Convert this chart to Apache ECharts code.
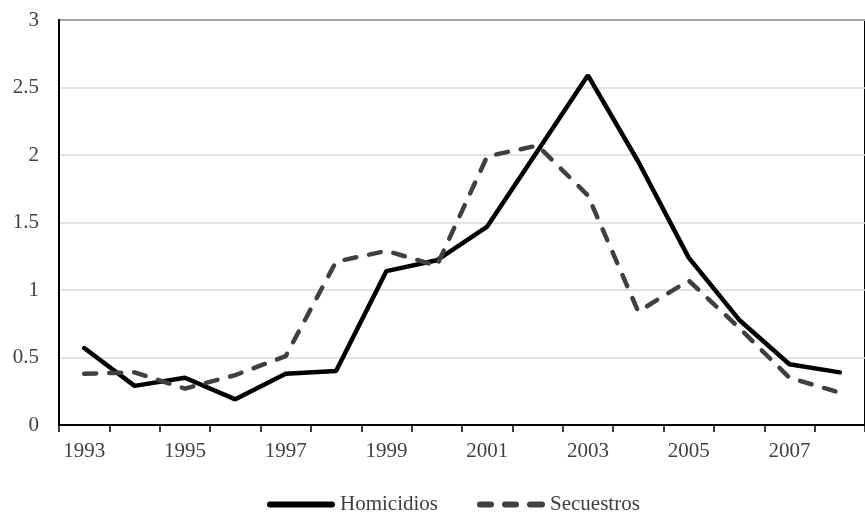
<!DOCTYPE html>
<html>
<head>
<meta charset="utf-8">
<script src="https://cdn.jsdelivr.net/npm/echarts@6/dist/echarts.min.js"></script>
<style>
  html, body { margin: 0; padding: 0; background: #fff; }
  #chart { width: 865px; height: 513px; }
</style>
</head>
<body>
<div id="chart"></div>
<script>
// años
var years = ['1993', '1994', '1995', '1996', '1997', '1998', '1999', '2000',
             '2001', '2002', '2003', '2004', '2005', '2006', '2007', '2008'];
var homicidios = [0.57, 0.29, 0.35, 0.19, 0.38, 0.40, 1.14, 1.22, 1.47, 2.03, 2.59, 1.95, 1.24, 0.78, 0.45, 0.39];
var secuestros = [0.38, 0.39, 0.27, 0.37, 0.51, 1.21, 1.29, 1.18, 1.99, 2.07, 1.70, 0.84, 1.07, 0.72, 0.35, 0.24];

var font = 'Liberation Serif, Times New Roman, serif';
var chart = echarts.init(document.getElementById('chart'));
chart.setOption({
    animation: false,
    grid: {
        left: 59,
        top: 20,
        width: 814,   // el borde derecho queda fuera de la imagen
        height: 405,
        show: true,
        borderColor: '#000',
        borderWidth: 2
    },
    legend: {
        top: 489,
        left: 262,
        itemWidth: 68,
        itemHeight: 14,
        itemGap: 39,
        textStyle: { fontFamily: font, fontSize: 21, color: '#404040' },
        data: [
            { name: 'Homicidios', icon: 'path://M3,0h62a3,3 0 0 1 0,6h-62a3,3 0 0 1 0,-6z' },
            { name: 'Secuestros', icon: 'path://M3,0h11a3,3 0 0 1 0,6h-11a3,3 0 0 1 0,-6z M28,0h11a3,3 0 0 1 0,6h-11a3,3 0 0 1 0,-6z M53,0h12a3,3 0 0 1 0,6h-12a3,3 0 0 1 0,-6z' }
        ]
    },
    xAxis: {
        type: 'category',
        data: years,
        boundaryGap: true,
        axisLine: { lineStyle: { color: '#000', width: 2 } },
        axisTick: { show: true, alignWithLabel: false, interval: 0, length: 7, lineStyle: { color: '#000', width: 1.5 } },
        axisLabel: { interval: 1, fontFamily: font, fontSize: 21, color: '#404040', margin: 16 },
        splitLine: { show: false }
    },
    yAxis: {
        type: 'value',
        min: 0,
        max: 3,
        interval: 0.5,
        axisLine: { show: true, lineStyle: { color: '#000', width: 2 } },
        axisTick: { show: false },
        axisLabel: { fontFamily: font, fontSize: 21, color: '#404040', margin: 20 },
        splitLine: { lineStyle: { color: '#d9d9d9', width: 1.5 } }
    },
    series: [
        {
            name: 'Homicidios',
            type: 'line',
            data: homicidios,
            symbol: 'none',
            itemStyle: { color: '#000' },
            lineStyle: { color: '#000', width: 4.5, cap: 'round' }
        },
        {
            name: 'Secuestros',
            type: 'line',
            data: secuestros,
            symbol: 'none',
            itemStyle: { color: '#404040' },
            lineStyle: { color: '#404040', width: 4.5, type: [12, 13], cap: 'round' }
        }
    ]
});
</script>
</body>
</html>
